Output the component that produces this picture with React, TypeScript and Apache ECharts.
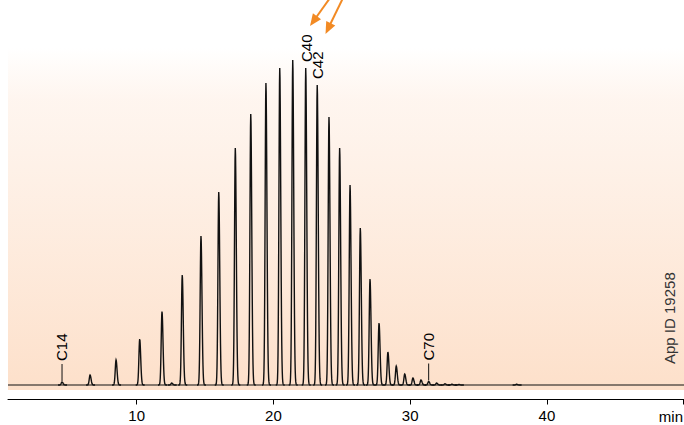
import React, { useEffect, useRef } from "react";
import * as echarts from "echarts";

// Retention times (min) and peak heights (arbitrary units)
const PEAK_TIMES = [4.54, 6.59, 8.49, 10.22, 11.85, 12.56, 13.33, 14.7, 16.0, 17.21, 18.34, 19.45, 20.46, 21.41, 22.36, 23.2, 24.06, 24.84, 25.6, 26.35, 27.06, 27.72, 28.37, 28.98, 29.6, 30.2, 30.79, 31.35, 31.93, 32.54, 33.05, 33.56, 37.78];
const PEAK_HEIGHTS = [3, 10, 25, 46, 73.5, 2, 110, 149, 193, 237, 271, 302, 317, 325, 317, 300, 268, 237, 200, 157, 106, 62, 33, 19, 11, 7, 5, 3.5, 2, 1.2, 0.8, 0.5, 0.8];

const BASELINE_TIMES = [0.59, 50.02];
const BASELINE_VALUES = [0, 0];

const LABEL_NAMES = ["C14", "C40", "C42", "C70"];
const LABEL_TIMES = [4.54, 22.36, 23.2, 31.35];
const LABEL_HEIGHTS = [3, 317, 300, 3.5];
const LABEL_LEADER = [true, false, false, true];

const TICK_VALUES = [10, 20, 30, 40, 50];
const TICK_LABELS = [10, 20, 30, 40];

const FONT = "'Liberation Sans', Arial, Helvetica, sans-serif";
const ORANGE = "#f28a24";

function arrow(x0: number, y0: number, x1: number, y1: number) {
  const len = Math.hypot(x1 - x0, y1 - y0);
  const dx = (x1 - x0) / len;
  const dy = (y1 - y0) / len;
  const nx = -dy;
  const ny = dx;
  const hl = 12;
  const hw = 5;
  const bx = x1 - dx * hl;
  const by = y1 - dy * hl;
  return [
    {
      type: "line",
      shape: { x1: x0, y1: y0, x2: x1 - dx * 8, y2: y1 - dy * 8 },
      style: { stroke: ORANGE, lineWidth: 2 },
      silent: true,
      z: 10,
    },
    {
      type: "polygon",
      shape: {
        points: [
          [x1, y1],
          [bx + nx * hw, by + ny * hw],
          [bx - nx * hw, by - ny * hw],
        ],
      },
      style: { fill: ORANGE },
      silent: true,
      z: 10,
    },
  ];
}

export default function App() {
  const ref = useRef<HTMLDivElement>(null);

  useEffect(() => {
    if (!ref.current) return;
    const chart = echarts.init(ref.current, null, { renderer: "svg" });

    const peakData = PEAK_TIMES.map((t, i) => [t, PEAK_HEIGHTS[i]]);
    const labelData = LABEL_TIMES.map((t, i) => [t, LABEL_HEIGHTS[i], i]);
    const baseData = BASELINE_TIMES.map((t, i) => [t, BASELINE_VALUES[i]]);

    const option: any = {
      animation: false,
      grid: { left: 8, right: 0, top: 45, bottom: 25.5 },
      xAxis: {
        type: "value",
        min: 0.59,
        max: 50.02,
        axisLine: { show: true, onZero: false, lineStyle: { color: "#000", width: 1 } },
        axisTick: {
          show: true,
          length: 5,
          customValues: TICK_VALUES,
          lineStyle: { color: "#000", width: 1 },
        },
        axisLabel: {
          customValues: TICK_LABELS,
          fontSize: 15,
          color: "#000",
          margin: 8,
          fontFamily: FONT,
        },
        splitLine: { show: false },
      },
      yAxis: { type: "value", min: -14.5, max: 340, show: false },
      graphic: [
        {
          type: "rect",
          shape: { x: 8, y: 48, width: 676, height: 342 },
          style: {
            fill: new echarts.graphic.LinearGradient(0, 0, 0, 1, [
              { offset: 0, color: "rgba(253,226,205,0)" },
              { offset: 0.15, color: "rgba(253,228,210,0.35)" },
              { offset: 1, color: "rgba(253,224,202,1)" },
            ]),
          },
          silent: true,
          z: -10,
        },
        {
          type: "text",
          x: 683,
          y: 416,
          style: {
            text: "min",
            fontSize: 15,
            fontFamily: FONT,
            fill: "#000",
            align: "right",
            verticalAlign: "middle",
          },
          silent: true,
        },
        {
          type: "text",
          x: 669,
          y: 364,
          rotation: Math.PI / 2,
          style: {
            text: "App ID 19258",
            fontSize: 15,
            fontFamily: FONT,
            fill: "#333",
            align: "left",
            verticalAlign: "middle",
          },
          silent: true,
        },
        ...arrow(330, -2, 310, 26),
        ...arrow(343, -2, 325.5, 34),
      ],
      series: [
        {
          type: "line",
          data: baseData,
          showSymbol: false,
          silent: true,
          lineStyle: { color: "#111", width: 1.1 },
          z: 3,
        },
        {
          type: "custom",
          data: peakData,
          silent: true,
          clip: false,
          z: 4,
          renderItem: (params: any, api: any) => {
            const t = api.value(0);
            const h = api.value(1);
            const base = api.coord([t, 0]);
            const top = api.coord([t, h]);
            const amp = base[1] - top[1];
            const pts: number[][] = [];
            for (let dx = -4; dx <= 5.001; dx += 0.25) {
              const s = dx < 0 ? 0.8 : 1.0;
              pts.push([base[0] + dx, base[1] - amp * Math.exp(-(dx * dx) / (2 * s * s))]);
            }
            return {
              type: "polyline",
              shape: { points: pts },
              style: { stroke: "#111", lineWidth: 1.4, fill: "none" },
            };
          },
        },
        {
          type: "custom",
          data: labelData,
          silent: true,
          clip: false,
          z: 5,
          renderItem: (params: any, api: any) => {
            const t = api.value(0);
            const h = api.value(1);
            const idx = api.value(2);
            const p = api.coord([t, h]);
            const children: any[] = [];
            let ty: number;
            let tx: number;
            if (LABEL_LEADER[idx]) {
              children.push({
                type: "line",
                shape: { x1: p[0], y1: p[1] - 1, x2: p[0], y2: p[1] - 18 },
                style: { stroke: "#111", lineWidth: 1 },
              });
              ty = p[1] - 21;
              tx = p[0] - 0.5;
            } else {
              ty = p[1] - 6;
              tx = p[0] + 0.5;
            }
            children.push({
              type: "text",
              x: tx,
              y: ty,
              rotation: Math.PI / 2,
              style: {
                text: LABEL_NAMES[idx],
                fontSize: 15,
                fontFamily: FONT,
                fill: "#000",
                align: "left",
                verticalAlign: "middle",
              },
            });
            return { type: "group", children };
          },
        },
      ],
    };

    chart.setOption(option);
    return () => chart.dispose();
  }, []);

  return (
    <div
      ref={ref}
      style={{ position: "fixed", left: 0, top: 0, width: 684, height: 425, background: "#fff" }}
    />
  );
}
